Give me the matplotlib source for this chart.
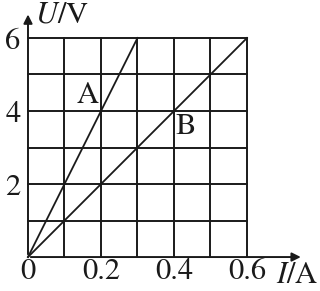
import numpy as np
import matplotlib
matplotlib.use('Agg')
import matplotlib.pyplot as plt

plt.rcParams['font.family'] = ['STIXGeneral', 'Liberation Serif']
plt.rcParams['mathtext.fontset'] = 'stix'

# grid ticks
i_grid = [0.0, 0.1, 0.2, 0.3, 0.4, 0.5, 0.6]
u_grid = [0, 1, 2, 3, 4, 5, 6]
x_labels = ['0', '0.2', '0.4', '0.6']
x_label_pos = [0.0, 0.2, 0.4, 0.6]
y_labels = ['2', '4', '6']
y_label_pos = [2, 4, 6]

# the two resistors
line_a_i = [0.0, 0.3]
line_a_u = [0, 6]
line_b_i = [0.0, 0.6]
line_b_u = [0, 6]

fig = plt.figure(figsize=(3.2, 2.91), dpi=100)
ax = fig.add_axes([0, 0, 1, 1])
ax.set_xlim(-0.0767, 0.8)
ax.set_ylim(-0.93, 7.04)
ax.axis('off')

c = '#1a1a1a'
for x in i_grid[1:]:
    ax.plot([x, x], [0, 6], color=c, lw=1.4)
for y in u_grid[1:]:
    ax.plot([0, 0.6], [y, y], color=c, lw=1.4)

# axes with arrows
ax.annotate('', xy=(0.755, 0), xytext=(0, 0),
            arrowprops=dict(arrowstyle='-|>', color=c, lw=1.4, mutation_scale=13))
ax.annotate('', xy=(0, 6.72), xytext=(0, 0),
            arrowprops=dict(arrowstyle='-|>', color=c, lw=1.4, mutation_scale=13))

ax.plot(line_a_i, line_a_u, color=c, lw=1.3)
ax.plot(line_b_i, line_b_u, color=c, lw=1.3)

fs = 22
for lab, x in zip(x_labels, x_label_pos):
    ax.text(x, -0.42, lab, ha='center', va='center', fontsize=fs, color=c)
for lab, y in zip(y_labels, y_label_pos):
    ax.text(-0.041, y - 0.1, lab, ha='center', va='center', fontsize=fs, color=c)

ax.text(0.164, 4.42, 'A', ha='center', va='center', fontsize=fs, color=c)
ax.text(0.433, 3.56, 'B', ha='center', va='center', fontsize=fs, color=c)
ax.text(0.093, 6.62, r'$\mathit{U}$/V', ha='center', va='center', fontsize=fs, color=c)
ax.text(0.737, -0.52, r'$\mathit{I}$/A', ha='center', va='center', fontsize=fs, color=c)

fig.savefig('out.png', dpi=100)
